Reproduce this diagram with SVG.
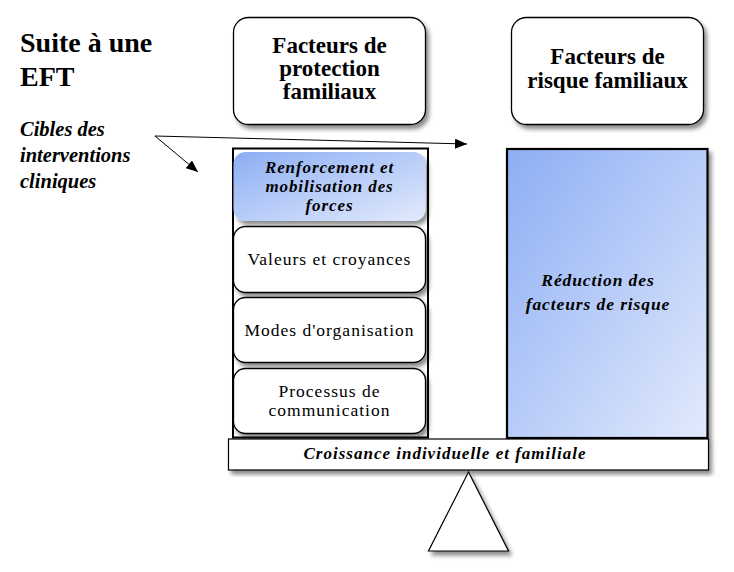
<svg xmlns="http://www.w3.org/2000/svg" width="734" height="572" viewBox="0 0 734 572" font-family="Liberation Serif, Times New Roman, Tinos, Noto Serif, DejaVu Serif, FreeSerif, serif">
<defs>
<style>
.title{font-size:28px;font-weight:bold}
.head{font-size:23px;font-weight:bold;text-anchor:middle}
.bi{font-size:17px;font-weight:bold;font-style:italic;text-anchor:middle;letter-spacing:0.9px}
.reg{font-size:17.5px;text-anchor:middle;letter-spacing:1px}
.cib{font-size:20.5px;font-weight:bold;font-style:italic}
.box{fill:#fff;stroke:#000;stroke-width:1.3}
.conn{stroke:#000;stroke-width:1;fill:none}
</style>
<filter id="sh" x="-10%" y="-10%" width="130%" height="130%">
<feDropShadow dx="3" dy="4" stdDeviation="2" flood-color="#000" flood-opacity="0.45"/>
</filter>
<linearGradient id="blue" x1="0" y1="0" x2="1" y2="1">
<stop offset="0" stop-color="#8DAEF4"/>
<stop offset="1" stop-color="#E2EAFC"/>
</linearGradient>
<marker id="ah" viewBox="0 0 12 10" refX="12" refY="5" markerWidth="12" markerHeight="10" markerUnits="userSpaceOnUse" orient="auto">
<path d="M0,0 L12,5 L0,10 Z" fill="#000"/>
</marker>
</defs>

<g id="title">
<text class="title" x="20" y="52">Suite à une</text>
<text class="title" x="20" y="86">EFT</text>
</g>

<g id="cibles">
<text class="cib" x="20" y="136">Cibles des</text>
<text class="cib" x="20" y="162">interventions</text>
<text class="cib" x="20" y="188">cliniques</text>
</g>

<g id="protection-header">
<rect class="box" x="233.5" y="17.5" width="192" height="107" rx="15" filter="url(#sh)"/>
<text class="head" x="329.5" y="53">Facteurs de</text>
<text class="head" x="329.5" y="76">protection</text>
<text class="head" x="329.5" y="99">familiaux</text>
</g>

<g id="risque-header">
<rect class="box" x="511.5" y="17.5" width="192" height="107" rx="15" filter="url(#sh)"/>
<text class="head" x="607.5" y="64">Facteurs de</text>
<text class="head" x="607.5" y="88">risque familiaux</text>
</g>

<g id="protection-column">
<rect x="233" y="148.5" width="195" height="289" fill="#fff" stroke="#000" stroke-width="2"/>
</g>

<g id="renforcement">
<rect x="233.5" y="152" width="192" height="69" rx="12" fill="url(#blue)" filter="url(#sh)"/>
<text class="bi" x="329.5" y="172.5">Renforcement et</text>
<text class="bi" x="329.5" y="191.5">mobilisation des</text>
<text class="bi" x="329.5" y="211">forces</text>
</g>

<g id="valeurs">
<rect class="box" x="233.5" y="226.5" width="192" height="66" rx="12" filter="url(#sh)"/>
<text class="reg" x="329.5" y="265">Valeurs et croyances</text>
</g>

<g id="modes">
<rect class="box" x="233.5" y="297.5" width="192" height="65" rx="12" filter="url(#sh)"/>
<text class="reg" x="329.5" y="336">Modes d'organisation</text>
</g>

<g id="processus">
<rect class="box" x="233.5" y="368.5" width="192" height="65" rx="12" filter="url(#sh)"/>
<text class="reg" x="329.5" y="396.5">Processus de</text>
<text class="reg" x="329.5" y="415.5">communication</text>
</g>

<g id="reduction">
<rect x="507" y="149" width="200.5" height="289" fill="url(#blue)" stroke="#000" stroke-width="2.2" filter="url(#sh)"/>
<text class="bi" x="598" y="286" style="font-size:17.5px">Réduction des</text>
<text class="bi" x="598" y="309.5" style="font-size:17.5px">facteurs de risque</text>
</g>

<g id="croissance">
<rect x="228.5" y="439" width="480" height="31" fill="#fff" stroke="#000" stroke-width="1.2" filter="url(#sh)"/>
<text class="bi" x="445" y="458.5" style="letter-spacing:1px">Croissance individuelle et familiale</text>
</g>

<g id="fulcrum">
<polygon points="468.5,472 508.5,551 428.5,551" fill="#fff" stroke="#000" stroke-width="1.2" filter="url(#sh)"/>
</g>

<g id="connectors">
<line class="conn" x1="155" y1="136" x2="467" y2="144" marker-end="url(#ah)"/>
<line class="conn" x1="155" y1="136" x2="198" y2="172" marker-end="url(#ah)"/>
</g>
</svg>
